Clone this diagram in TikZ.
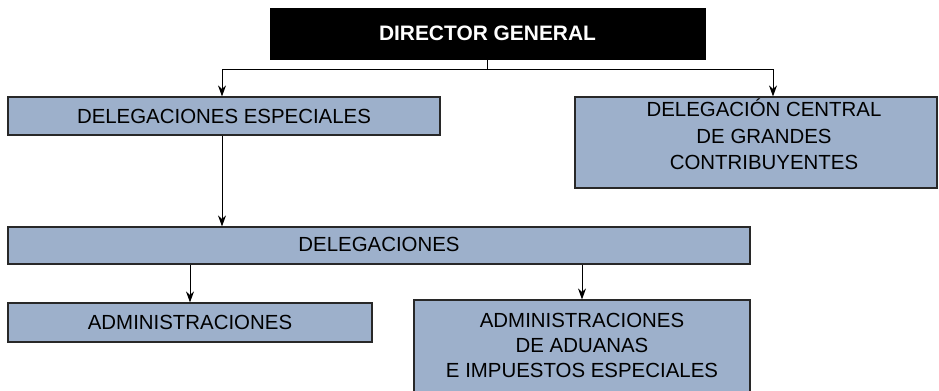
\documentclass[tikz,border=0pt]{standalone}
\usepackage{fontspec}
\setmainfont{Liberation Sans}
\usetikzlibrary{arrows.meta}
\definecolor{boxblue}{RGB}{157,176,203}
\definecolor{edgegray}{RGB}{40,40,40}
\begin{document}
\begin{tikzpicture}[x=1bp,y=-1bp,
  box/.style={draw=edgegray,line width=1.2bp,fill=boxblue,inner sep=0pt},
  txt/.style={inner sep=0pt,align=center,font=\fontsize{20.5}{25}\selectfont},
  topbox/.style={draw=black,fill=black,inner sep=0pt,text=white,
    font=\fontsize{21}{24}\selectfont\bfseries},
  arr/.style={draw=black,line width=1bp,-{Stealth[length=11bp,width=8bp]}},
  ln/.style={draw=black,line width=1bp}]
\useasboundingbox (0,0) rectangle (939,390);
\node[topbox,minimum width=435bp,minimum height=51bp] (dir) at (487.5,33.5) {DIRECTOR GENERAL};
\node[box,minimum width=432bp,minimum height=38bp] (de) at (224,116) {};
\node[txt] at (de.center) {DELEGACIONES ESPECIALES};
\node[box,minimum width=362bp,minimum height=91bp] (dc) at (756,142.5) {};
\node[txt,font=\fontsize{20.5}{26.5}\selectfont] at ([xshift=8bp,yshift=8bp]dc.center) {DELEGACIÓN CENTRAL\\DE GRANDES\\CONTRIBUYENTES};
\node[box,minimum width=742bp,minimum height=37bp] (del) at (379,245.5) {};
\node[txt] at ([yshift=1bp]del.center) {DELEGACIONES};
\node[box,minimum width=364bp,minimum height=39bp] (adm) at (190,322.5) {};
\node[txt] at (adm.center) {ADMINISTRACIONES};
\node[box,minimum width=336bp,minimum height=94bp] (adu) at (582,347) {};
\node[txt] at ([yshift=1.5bp]adu.center) {ADMINISTRACIONES\\DE ADUANAS\\E IMPUESTOS ESPECIALES};
\coordinate (j) at (487.5,69);
\draw[ln] (dir.south) -- (j);
\draw[arr] (j) -| ([xshift=-2bp]de.north);
\draw[arr] (j) -| ([xshift=17bp]dc.north);
\draw[arr] ([xshift=-2bp]de.south) -- ([xshift=-2bp]de.south |- del.north);
\draw[arr] (adm.north |- del.south) -- (adm.north);
\draw[arr] (adu.north |- del.south) -- (adu.north);
\end{tikzpicture}
\end{document}
